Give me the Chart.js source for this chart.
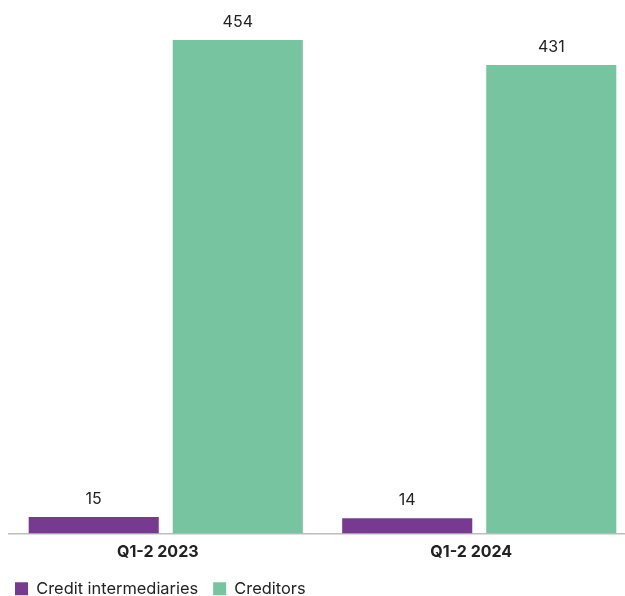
<!DOCTYPE html>
<html>
<head>
<meta charset="utf-8">
<script src="https://cdn.jsdelivr.net/npm/chart.js@4.4.1/dist/chart.umd.min.js"></script>
<style>
  html, body { margin: 0; padding: 0; background: #fff; overflow: hidden; }
  #wrap { width: 640px; height: 607px; }
</style>
</head>
<body>
<div id="wrap"><canvas id="myChart" width="640" height="607"></canvas></div>
<script>
// periodos y series
const periods = ['Q1-2 2023', 'Q1-2 2024'];
const intermediaries = [15, 14];
const creditors = [454, 431];
const seriesNames = ['Credit intermediaries', 'Creditors'];

const textColor = '#222222';
const fontFamily = 'Inter, Roboto, "Liberation Sans", sans-serif';

// escribe el valor encima de cada barra
const valueLabels = {
    id: 'valueLabels',
    afterDatasetsDraw(chart) {
        const ctx = chart.ctx;
        ctx.save();
        ctx.fillStyle = textColor;
        ctx.font = '16px ' + fontFamily;
        ctx.textAlign = 'center';
        ctx.textBaseline = 'middle';
        chart.data.datasets.forEach((ds, i) => {
            chart.getDatasetMeta(i).data.forEach((bar, j) => {
                ctx.fillText(String(ds.data[j]), bar.x, bar.y - 18);
            });
        });
        ctx.restore();
    }
};

const ctx = document.getElementById('myChart').getContext('2d');
const myChart = new Chart(ctx, {
    type: 'bar',
    data: {
        labels: periods,
        datasets: [{
            label: seriesNames[0],
            data: intermediaries,
            backgroundColor: '#763b91',
            categoryPercentage: 0.919,
            barPercentage: 0.903
        }, {
            label: seriesNames[1],
            data: creditors,
            backgroundColor: '#77c5a0',
            categoryPercentage: 0.919,
            barPercentage: 0.903
        }]
    },
    options: {
        responsive: false,
        animation: false,
        layout: {
            padding: { top: 40, left: 0, right: 4, bottom: 0 }
        },
        scales: {
            x: {
                grid: { display: false },
                border: { display: true, color: '#bdbdbd', width: 1.5 },
                ticks: {
                    color: textColor,
                    padding: 1,
                    labelOffset: -8,
                    font: { family: fontFamily, size: 16, weight: 'bold' }
                },
                afterFit(scale) { scale.height += 3; }
            },
            y: {
                beginAtZero: true,
                max: 454,
                grid: { display: false },
                border: { display: false },
                ticks: { display: false },
                afterFit(scale) { scale.width = 9; }
            }
        },
        plugins: {
            legend: {
                position: 'bottom',
                align: 'start',
                labels: {
                    color: textColor,
                    boxWidth: 13,
                    boxHeight: 13,
                    padding: 15,
                    font: { family: fontFamily, size: 16.4 }
                }
            },
            tooltip: { enabled: false }
        }
    },
    plugins: [valueLabels]
});
</script>
</body>
</html>
